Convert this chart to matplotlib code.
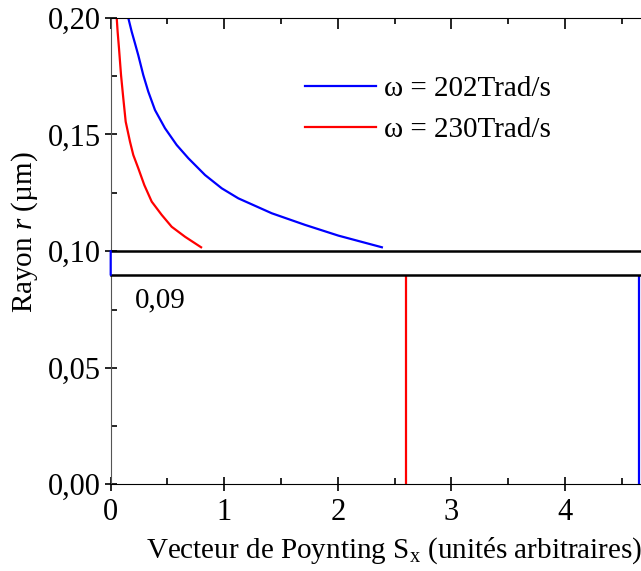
import matplotlib
matplotlib.use('Agg')
import matplotlib.pyplot as plt
from matplotlib.ticker import MultipleLocator, FuncFormatter
from matplotlib.patches import ConnectionPatch

plt.rcParams['font.family'] = ['Liberation Serif', 'DejaVu Serif']
plt.rcParams['mathtext.fontset'] = 'custom'
plt.rcParams['mathtext.rm'] = 'Liberation Serif'
plt.rcParams['mathtext.it'] = 'Liberation Serif:italic'

# courbes (partie haute, r > 0.10)
blue_x = [0.155, 0.185, 0.214, 0.243, 0.287, 0.331, 0.390, 0.478, 0.581, 0.684,
          0.831, 0.978, 1.124, 1.418, 1.712, 2.005, 2.388]
blue_r = [0.200, 0.1941, 0.1891, 0.184, 0.1755, 0.1684, 0.1605, 0.1527, 0.1455, 0.1398,
          0.1326, 0.1269, 0.1226, 0.1162, 0.1112, 0.1066, 0.1016]
red_x = [0.053, 0.061, 0.073, 0.091, 0.111, 0.132, 0.170, 0.199, 0.243, 0.296,
         0.361, 0.449, 0.537, 0.655, 0.796]
red_r = [0.200, 0.1941, 0.187, 0.1755, 0.1655, 0.1555, 0.1469, 0.1412, 0.1355, 0.1283,
         0.1212, 0.1155, 0.1104, 0.1061, 0.1016]

# partie basse : coeur (r < 0.09), S constant
blue_core_x = [4.655, 4.655]
red_core_x = [2.6, 2.6]
core_r = [0.0, 0.09]

labels = ['ω = 202Trad/s', 'ω = 230Trad/s']

W, H = 641, 571
fig = plt.figure(figsize=(W / 100, H / 100), dpi=100)
left = 110.7 / W
ax_top = fig.add_axes([left, 1 - 251 / H, 1 - left, (251 - 18) / H])
ax_bot = fig.add_axes([left, 1 - 484 / H, 1 - left, (484 - 275) / H])

xmax = 4.67
comma = FuncFormatter(lambda v, p: f'{v:.2f}'.replace('.', ','))

ax_top.plot(blue_x, blue_r, color='#0000ff', lw=1.6, label=labels[0])
ax_top.plot(red_x, red_r, color='#ff0000', lw=1.6, label=labels[1])
ax_top.set_ylim(0.10, 0.20)
ax_top.set_xlim(0, xmax)
ax_top.yaxis.set_major_locator(MultipleLocator(0.05))
ax_top.yaxis.set_minor_locator(MultipleLocator(0.025))
ax_top.yaxis.set_major_formatter(comma)
ax_top.xaxis.set_major_locator(MultipleLocator(1))
ax_top.xaxis.set_minor_locator(MultipleLocator(0.5))
ax_top.tick_params(axis='x', which='both', bottom=False, top=True, labelbottom=False,
                   direction='in')
ax_top.tick_params(axis='x', which='major', length=8, width=1.2)
ax_top.tick_params(axis='x', which='minor', length=4, width=1.2)
ax_top.spines['right'].set_visible(False)
ax_top.spines['bottom'].set_linewidth(1.8)

ax_bot.plot(blue_core_x, core_r, color='#0000ff', lw=1.6)
ax_bot.plot(red_core_x, core_r, color='#ff0000', lw=1.6)
ax_bot.set_ylim(0, 0.09)
ax_bot.set_xlim(0, xmax)
ax_bot.yaxis.set_major_locator(MultipleLocator(0.05))
ax_bot.yaxis.set_minor_locator(MultipleLocator(0.025))
ax_bot.yaxis.set_major_formatter(comma)
ax_bot.xaxis.set_major_locator(MultipleLocator(1))
ax_bot.xaxis.set_minor_locator(MultipleLocator(0.5))
ax_bot.xaxis.set_major_formatter(FuncFormatter(lambda v, p: f'{v:.0f}'))
ax_bot.tick_params(axis='x', which='major', direction='inout', length=10, width=1.2, pad=5)
ax_bot.tick_params(axis='x', which='minor', direction='in', length=4, width=1.2)
ax_bot.spines['right'].set_visible(False)
ax_bot.spines['top'].set_linewidth(1.8)
ax_bot.text(0.21, 0.079, '0,09', fontsize=21, va='center', ha='left')

for ax in (ax_top, ax_bot):
    ax.tick_params(axis='y', which='major', direction='inout', length=8, width=1.2,
                   labelsize=22, pad=3)
    ax.tick_params(axis='y', which='minor', direction='in', length=4, width=1.2)
    ax.tick_params(axis='x', labelsize=22)
    ax.spines['left'].set_color('#555555')
    ax.spines['bottom'].set_color('black')
    ax.spines['top'].set_color('black')

# bout d'axe gauche dans la coupure
con = ConnectionPatch(xyA=(0, 0.10), coordsA=ax_top.transData,
                      xyB=(0, 0.09), coordsB=ax_bot.transData,
                      color='#0000ff', lw=1.6)
fig.add_artist(con)

leg = ax_top.legend(loc='upper left', bbox_to_anchor=(305 / W, 1 - 76 / H),
                    bbox_transform=fig.transFigure, frameon=False, fontsize=21,
                    handlelength=2.45, handletextpad=0.25, labelspacing=0.5,
                    borderpad=0, borderaxespad=0)

fig.text(25 / W, 1 - 232 / H, 'Rayon $r$ (µm)', rotation=90, fontsize=21,
         ha='center', va='center')
fig.text(394 / W, 1 - 551 / H, 'Vecteur de Poynting S$_\\mathregular{x}$ (unités arbitraires)',
         fontsize=21, ha='center', va='center')

fig.savefig('out.png', dpi=100)
